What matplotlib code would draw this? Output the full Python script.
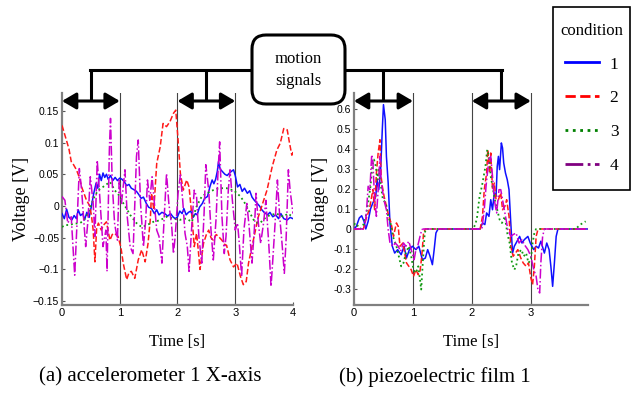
import matplotlib
matplotlib.use('Agg')
import matplotlib.pyplot as plt
from matplotlib.lines import Line2D
from matplotlib.patches import FancyBboxPatch, FancyArrowPatch, Rectangle

# (a) accelerometer 1 X-axis : (time [s], voltage [V])
acc_cond1 = [(0, -.012), (.04, -.02), (.08, -.005), (.12, -.018), (.17, -.022), (.21, -.015), (.25, -.02),
             (.28, -.006), (.32, -.015), (.36, -.012), (.39, -.022), (.43, -.01), (.47, -.018), (.51, 0.0),
             (.55, .02), (.59, .036), (.62, .028), (.65, .05), (.68, .04), (.71, .052), (.74, .045), (.77, .05),
             (.80, .042), (.84, .048), (.88, .04), (.92, .045), (.96, .04), (1.0, .044), (1.04, .042),
             (1.08, .038), (1.12, .032), (1.16, .034), (1.2, .028), (1.24, .026), (1.29, .023), (1.33, .018),
             (1.37, .012), (1.41, .014), (1.46, .004), (1.5, -.002), (1.55, -.004), (1.6, -.012), (1.64, -.006),
             (1.68, -.014), (1.73, -.01), (1.78, -.012), (1.83, -.016), (1.88, -.012), (1.92, -.017),
             (1.96, -.02), (2.0, -.017), (2.04, -.008), (2.08, -.012), (2.11, -.004), (2.15, -.014),
             (2.19, -.01), (2.23, -.008), (2.27, -.018), (2.31, -.012), (2.34, -.014), (2.38, -.002),
             (2.43, .004), (2.47, .012), (2.52, .015), (2.56, .03), (2.6, .041), (2.63, .035), (2.66, .042),
             (2.69, .055), (2.71, .07), (2.74, .058), (2.78, .054), (2.82, .05), (2.86, .048), (2.9, .052),
             (2.94, .055), (2.97, .057), (3.0, .048), (3.04, .03), (3.08, .034), (3.12, .023), (3.16, .028),
             (3.21, .02), (3.25, .024), (3.29, .014), (3.33, .009), (3.38, .004), (3.42, 0.0), (3.46, -.006),
             (3.5, -.01), (3.56, -.014), (3.6, -.01), (3.65, -.017), (3.7, -.014), (3.75, -.02), (3.79, -.012),
             (3.84, -.02), (3.9, -.022), (3.95, -.018), (4.0, -.02)]
acc_cond2 = [(0, .127), (.075, .104), (.12, .09), (.16, .07), (.2, .065), (.25, .057), (.3, .045), (.34, .03),
             (.38, .02), (.42, .01), (.48, 0.0), (.51, -.015), (.54, -.038), (.57, -.088), (.60, -.035),
             (.63, -.027), (.68, -.038), (.72, -.03), (.77, -.025), (.80, -.04), (.83, -.054), (.87, -.045),
             (.91, -.043), (.97, -.048), (1.02, -.065), (1.06, -.09), (1.12, -.116), (1.16, -.105),
             (1.2, -.103), (1.26, -.114), (1.32, -.085), (1.38, -.069), (1.44, -.088), (1.49, -.059),
             (1.53, -.02), (1.55, .02), (1.59, -.006), (1.64, .067), (1.7, .093), (1.75, .13), (1.81, .125),
             (1.87, .133), (1.93, .146), (1.97, .151), (2.01, .104), (2.05, .051), (2.1, .025), (2.16, .041),
             (2.2, .03), (2.25, -.017), (2.29, -.064), (2.33, -.043), (2.36, -.07), (2.39, -.10), (2.45, -.059),
             (2.5, -.045), (2.54, -.038), (2.58, -.05), (2.62, -.054), (2.67, -.045), (2.71, -.048),
             (2.77, -.054), (2.81, -.06), (2.85, -.062), (2.91, -.085), (2.97, -.096), (3.03, -.09),
             (3.09, -.111), (3.14, -.124), (3.19, -.119), (3.23, -.09), (3.29, -.064), (3.35, -.038),
             (3.4, -.017), (3.46, 0.0), (3.55, .025), (3.64, .062), (3.72, .088), (3.78, .099), (3.84, .122),
             (3.9, .12), (3.94, .099), (3.98, .08), (4.0, .085)]
acc_cond3 = [(0, -.033), (.06, -.03), (.13, -.03), (.2, -.028), (.31, -.027), (.36, -.024), (.42, -.017),
             (.48, -.005), (.54, .01), (.58, .018), (.63, .025), (.67, .028), (.71, .03), (.77, .034),
             (.83, .038), (.87, .032), (.91, .025), (.96, .02), (1.0, .015), (1.05, .006), (1.09, 0.0),
             (1.13, -.006), (1.18, -.014), (1.23, -.02), (1.29, -.027), (1.33, -.03), (1.38, -.033),
             (1.42, -.032), (1.46, -.03), (1.52, -.028), (1.58, -.025), (1.64, -.024), (1.7, -.022),
             (1.75, -.02), (1.81, -.017), (1.87, -.018), (1.93, -.02), (1.98, -.021), (2.04, -.022),
             (2.1, -.02), (2.16, -.02), (2.21, -.023), (2.25, -.025), (2.29, -.012), (2.33, -.001), (2.38, .008),
             (2.42, .015), (2.47, .018), (2.51, .02), (2.57, .023), (2.62, .025), (2.68, .027), (2.74, .028),
             (2.8, .028), (2.85, .028), (2.91, .026), (2.97, .025), (3.03, .02), (3.09, .015), (3.15, .007),
             (3.2, -.001), (3.26, -.012), (3.32, -.022), (3.37, -.026), (3.43, -.027), (3.48, -.022),
             (3.52, -.019), (3.57, -.016), (3.61, -.014), (3.67, -.013), (3.72, -.012), (3.78, -.015),
             (3.84, -.017), (3.88, -.014), (3.92, -.012), (3.96, -.015), (4.0, -.017)]
acc_cond4 = [(0, .015), (.05, .009), (.10, -.027), (.16, -.017), (.19, -.064), (.22, -.109), (.26, -.027),
             (.30, .059), (.34, .025), (.38, -.027), (.41, -.064), (.45, -.022), (.49, .046), (.54, .004),
             (.57, -.048), (.61, .072), (.65, .020), (.71, -.064), (.76, -.038), (.78, -.103), (.82, .088),
             (.84, .138), (.87, .036), (.91, -.027), (.96, -.054), (.99, .041), (1.03, .004), (1.09, .057),
             (1.13, -.017), (1.18, -.064), (1.23, -.075), (1.29, .078), (1.32, .104), (1.36, .004),
             (1.41, -.064), (1.45, -.022), (1.48, .041), (1.52, .009), (1.56, .046), (1.59, .015),
             (1.64, -.038), (1.68, -.048), (1.73, -.090), (1.77, -.017), (1.81, .051), (1.85, .004),
             (1.90, -.032), (1.93, -.075), (1.96, -.048), (2.01, .020), (2.05, .049), (2.09, .009),
             (2.13, -.043), (2.17, -.064), (2.20, -.103), (2.25, -.027), (2.29, .025), (2.33, .015),
             (2.37, -.048), (2.42, -.090), (2.46, -.012), (2.49, .065), (2.54, .025), (2.58, -.038),
             (2.62, -.085), (2.67, -.017), (2.70, .051), (2.73, .101), (2.77, -.017), (2.81, -.075),
             (2.84, -.048), (2.88, .025), (2.91, .057), (2.95, .009), (3.00, -.038), (3.04, -.027),
             (3.07, -.059), (3.11, -.111), (3.15, -.038), (3.20, .004), (3.24, -.032), (3.29, -.090),
             (3.33, -.038), (3.36, .020), (3.40, -.027), (3.44, -.059), (3.49, -.027), (3.53, .009),
             (3.58, -.059), (3.62, -.127), (3.65, -.085), (3.69, -.027), (3.73, .041), (3.77, -.017),
             (3.81, -.059), (3.85, -.106), (3.88, -.054), (3.92, .057), (3.95, .025), (4.00, -.012)]

# (b) piezoelectric film 1 : (time [s], voltage [V])
pz_cond1 = [(0, 0.0), (.04, .013), (.09, .055), (.13, .066), (.17, .038), (.2, 0.0), (.24, .038), (.28, .1),
            (.32, .13), (.37, .163), (.39, .246), (.42, .196), (.45, .279), (.48, .495), (.5, .62), (.53, .545),
            (.55, .362), (.58, .229), (.61, .03), (.65, -.086), (.69, -.12), (.74, -.103), (.8, -.128),
            (.85, -.086), (.89, -.145), (.94, -.103), (.99, -.086), (1.05, -.103), (1.1, -.086), (1.16, -.153),
            (1.21, -.145), (1.25, -.103), (1.29, -.136), (1.33, -.178), (1.36, -.103), (1.39, -.02),
            (1.42, -.003), (1.45, 0.0), (2.14, 0.0), (2.18, .03), (2.22, .022), (2.25, .08), (2.29, .063),
            (2.32, .146), (2.35, .096), (2.38, .18), (2.41, .163), (2.43, .312), (2.45, .362), (2.47, .296),
            (2.5, .429), (2.52, .404), (2.54, .329), (2.57, .279), (2.6, .246), (2.63, .196), (2.66, .03),
            (2.69, -.12), (2.72, -.086), (2.75, -.07), (2.81, -.037), (2.85, -.07), (2.89, -.053),
            (2.95, -.037), (2.99, -.07), (3.05, -.103), (3.09, -.086), (3.13, -.095), (3.17, -.061),
            (3.23, -.12), (3.27, -.07), (3.31, -.103), (3.34, -.186), (3.37, -.286), (3.4, -.169),
            (3.43, -.037), (3.46, 0.0), (3.97, 0.0)]
pz_cond2 = [(0, 0.0), (.16, 0.0), (.19, .038), (.22, .063), (.26, .096), (.29, .146), (.32, .196), (.35, .096),
            (.38, .279), (.41, .38), (.44, .445), (.46, .262), (.48, .213), (.51, .163), (.55, .113), (.59, .063),
            (.63, .03), (.67, -.037), (.72, .03), (.75, .013), (.78, -.086), (.83, -.07), (.86, -.12),
            (.89, -.169), (.93, -.186), (.97, -.203), (1.01, -.236), (1.05, -.203), (1.09, -.228),
            (1.12, -.211), (1.15, -.136), (1.18, -.02), (1.21, 0.0), (2.14, 0.0), (2.18, .063), (2.21, .196),
            (2.25, .279), (2.27, .395), (2.3, .279), (2.32, .379), (2.35, .196), (2.38, .229), (2.41, .146),
            (2.45, .146), (2.49, .18), (2.52, .096), (2.56, .113), (2.59, .146), (2.63, .063), (2.66, -.086),
            (2.7, -.136), (2.74, -.12), (2.78, -.103), (2.83, -.145), (2.87, -.169), (2.92, -.186),
            (2.96, -.169), (3.0, -.244), (3.03, -.277), (3.06, -.186), (3.09, -.037), (3.12, -.003),
            (3.15, 0.0), (3.97, 0.0)]
pz_cond3 = [(0, .022), (.03, .03), (.07, .013), (.11, 0.0), (.16, .022), (.2, .063), (.24, .13), (.28, .213),
            (.31, .312), (.34, .346), (.37, .312), (.4, .246), (.42, .296), (.45, .229), (.49, .146), (.54, .13),
            (.58, .063), (.62, .03), (.66, -.037), (.72, -.086), (.76, -.136), (.8, -.186), (.84, -.169),
            (.88, -.12), (.93, -.086), (.97, -.136), (1.01, -.203), (1.05, -.219), (1.09, -.186), (1.12, -.252),
            (1.14, -.302), (1.17, -.153), (1.2, -.02), (1.22, 0.0), (2.0, 0.0), (2.03, .008), (2.06, .022),
            (2.09, .063), (2.13, .163), (2.17, .213), (2.2, .262), (2.23, .312), (2.26, .395), (2.29, .362),
            (2.32, .262), (2.35, .213), (2.39, .146), (2.43, .096), (2.47, .047), (2.51, .03), (2.56, .063),
            (2.6, -.02), (2.64, -.07), (2.68, -.169), (2.72, -.203), (2.75, -.186), (2.79, -.12), (2.84, -.103),
            (2.88, -.136), (2.92, -.12), (2.96, -.169), (3.0, -.153), (3.03, -.07), (3.06, -.02), (3.09, 0.0),
            (3.76, 0.0), (3.84, .022), (3.93, .038)]
pz_cond4 = [(0, 0.0), (.18, 0.0), (.21, .08), (.24, .213), (.27, .196), (.3, .37), (.32, .337), (.35, .146),
            (.38, .063), (.41, .196), (.44, .362), (.46, .246), (.49, .18), (.52, .13), (.55, .096), (.58, -.003),
            (.61, -.07), (.66, -.086), (.7, -.07), (.75, -.086), (.79, -.111), (.84, -.07), (.88, -.086),
            (.93, -.061), (.97, -.103), (1.02, -.153), (1.05, -.103), (1.08, -.086), (1.12, -.037),
            (1.15, -.003), (1.18, 0.0), (2.17, 0.0), (2.21, .096), (2.24, .213), (2.27, .296), (2.29, .346),
            (2.32, .362), (2.35, .262), (2.38, .146), (2.42, .08), (2.46, .196), (2.49, .196), (2.53, .13),
            (2.57, .063), (2.61, -.003), (2.66, -.037), (2.7, -.028), (2.75, -.02), (2.8, -.07), (2.85, -.053),
            (2.89, -.078), (2.95, -.103), (3.0, -.136), (3.05, -.203), (3.09, -.236), (3.12, -.302),
            (3.15, -.319), (3.17, -.169), (3.2, -.037), (3.23, 0.0), (3.97, 0.0)]

cond_labels = ['1', '2', '3', '4']
acc_yticks = [0.15, 0.1, 0.05, 0, -0.05, -0.1, -0.15]
acc_yticklabels = ['0.15', '0.1', '0.05', '0', '\u22120.05', '\u22120.1', '\u22120.15']
pz_yticks = [0.6, 0.5, 0.4, 0.3, 0.2, 0.1, 0, -0.1, -0.2, -0.3]
pz_yticklabels = ['0.6', '0.5', '0.4', '0.3', '0.2', '0.1', '0', '-0.1', '-0.2', '-0.3']
motion_windows = [(0, 1), (2, 3)]

# стилі ліній
line_colors = ['#1010ff', '#ff1a1a', '#119911', '#cc00cc']
legend_colors = ['#0000ff', '#ff0000', '#008000', '#800080']
line_styles = ['-', '--', ':', '-.']

SERIF = ['Liberation Serif', 'DejaVu Serif']
SANS = ['Liberation Sans Narrow', 'Liberation Sans']

fig = plt.figure(figsize=(6.36, 3.95), dpi=100)
W, H = 636, 395


def px_axes(left, right, top, bottom):
    return fig.add_axes([left / W, 1 - bottom / H, (right - left) / W, (bottom - top) / H])


ax1 = px_axes(62, 293, 93, 305)
ax2 = px_axes(354, 588, 93, 305)


def style_axes(ax, xlim, ylim, xticks, yticks, yticklabels, ylabel_x):
    ax.set_xlim(*xlim)
    ax.set_ylim(*ylim)
    for s in ['top', 'right']:
        ax.spines[s].set_visible(False)
    for s in ['left', 'bottom']:
        ax.spines[s].set_color('#808080')
        ax.spines[s].set_linewidth(1.6)
    ax.set_xticks(xticks)
    ax.set_xticklabels([str(t) for t in xticks], fontfamily=SANS, fontsize=8)
    ax.set_yticks(yticks)
    ax.set_yticklabels(yticklabels, fontfamily=SANS, fontsize=7.5)
    ax.tick_params(direction='in', length=2.5, width=0.8, color='#555555', pad=2)
    ax.set_xlabel('Time [s]', fontfamily=SERIF, fontsize=12)
    ax.set_ylabel('Voltage [V]', fontfamily=SERIF, fontsize=13)
    ax.xaxis.set_label_coords(0.5, -0.135)
    ax.yaxis.set_label_coords(ylabel_x, 0.5)
    for a, b in motion_windows:
        for x in (a, b):
            if x > 0:
                ax.axvline(x, color='#444444', lw=0.8, zorder=1)


for ax, series in [(ax1, [acc_cond1, acc_cond2, acc_cond3, acc_cond4]),
                   (ax2, [pz_cond1, pz_cond2, pz_cond3, pz_cond4])]:
    for data, c, ls in zip(series, line_colors, line_styles):
        t = [p[0] for p in data]
        v = [p[1] for p in data]
        ax.plot(t, v, color=c, ls=ls, lw=1.1 if ls != ':' else 1.3, zorder=3)

style_axes(ax1, (0, 4), (-0.156, 0.178), [0, 1, 2, 3, 4], acc_yticks, acc_yticklabels, -0.14)
style_axes(ax2, (0, 3.97), (-0.379, 0.678), [0, 1, 2, 3], pz_yticks, pz_yticklabels, -0.105)

# шар для стрілок і блоку "motion signals" (у пікселях)
ov = fig.add_axes([0, 0, 1, 1], zorder=5)
ov.set_xlim(0, W)
ov.set_ylim(H, 0)
ov.axis('off')


def to_px(ax, x):
    return ax.transData.transform((x, 0))[0]


arrow_y, bar_y = 101, 70
drops = []
for ax in (ax1, ax2):
    for a, b in motion_windows:
        xa, xb = to_px(ax, a), to_px(ax, b)
        ov.add_patch(FancyArrowPatch((xa, arrow_y), (xb, arrow_y), arrowstyle='<|-|>,head_length=8.5,head_width=5',
                                     mutation_scale=1, lw=2.2, color='black', shrinkA=0, shrinkB=0))
        drops.append((xa + xb) / 2)

for x in drops:
    ov.plot([x, x], [bar_y, arrow_y], color='black', lw=2.2, solid_capstyle='butt')
ov.plot([drops[0] - 1, drops[-1] + 1], [bar_y, bar_y], color='black', lw=2.2, solid_capstyle='projecting')

ov.add_patch(FancyBboxPatch((252, 35), 93, 69, boxstyle='round,pad=0,rounding_size=14',
                            facecolor='white', edgecolor='black', lw=2.2, zorder=6))
ov.text(298.5, 70, 'motion\nsignals', ha='center', va='center', fontfamily=SERIF, fontsize=12,
        linespacing=1.45, zorder=7)

# легенда (рамка окремо)
ov.add_patch(Rectangle((553, 7), 77, 183, facecolor='white', edgecolor='black', lw=1.2, zorder=6))
handles = [Line2D([], [], color=c, ls=ls, lw=2) for c, ls in zip(legend_colors, line_styles)]
leg = fig.legend(handles, cond_labels, title='condition', loc='upper center',
                 bbox_to_anchor=(591.5 / W, 1 - 14 / H), bbox_transform=fig.transFigure,
                 prop={'family': SERIF, 'size': 12.5}, title_fontproperties={'family': SERIF, 'size': 12},
                 frameon=False, borderpad=0.5, labelspacing=1.02,
                 handlelength=2.0, handletextpad=0.6, borderaxespad=0)
leg.set_zorder(8)

fig.text(150 / W, 1 - 377 / H, '(a) accelerometer 1 X-axis', ha='center', va='center', fontfamily=SERIF,
         fontsize=15)
fig.text(435 / W, 1 - 377 / H, '(b) piezoelectric film 1', ha='center', va='center', fontfamily=SERIF,
         fontsize=15)

fig.savefig('out.png', dpi=100)
